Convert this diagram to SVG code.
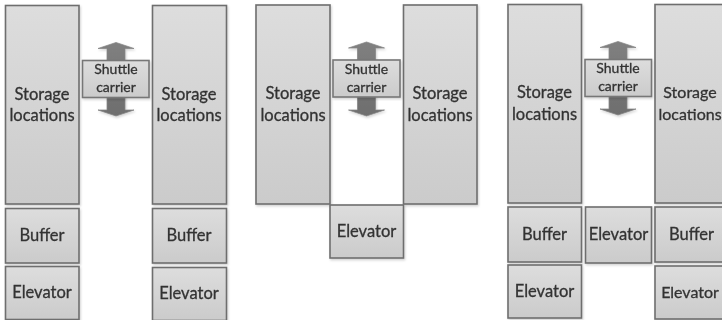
<svg xmlns="http://www.w3.org/2000/svg" width="722" height="320" viewBox="0 0 722 320">
<defs>
<linearGradient id="boxFill" x1="0" y1="0" x2="0" y2="1"><stop offset="0" stop-color="#dddddd"/><stop offset="1" stop-color="#cbcbcb"/></linearGradient>
<linearGradient id="arrowFill" x1="0" y1="0" x2="0" y2="1"><stop offset="0" stop-color="#808080"/><stop offset="1" stop-color="#6e6e6e"/></linearGradient>
<filter id="shadow" x="-10%" y="-10%" width="120%" height="120%"><feDropShadow dx="1" dy="1.5" stdDeviation="1" flood-color="#000000" flood-opacity="0.18"/></filter>
<filter id="soft" x="-5%" y="-5%" width="110%" height="110%"><feGaussianBlur stdDeviation="0.3"/></filter>
</defs>
<style>
.box{fill:url(#boxFill);stroke:#6e6e6e;stroke-width:1.6;filter:url(#shadow)}
.car{fill:url(#boxFill);stroke:#777777;stroke-width:1.6;filter:url(#shadow)}
.arrow{fill:url(#arrowFill);stroke:#858585;stroke-width:.75;filter:url(#shadow)}
text{font-family:"Lato","Liberation Sans",sans-serif;font-size:16.5px;fill:#333333;stroke:#333333;stroke-width:.3;text-anchor:middle;filter:url(#soft)}
.small{font-size:14px}
.edge{font-size:16px}
</style>
<rect width="722" height="320" fill="#ffffff"/>
<g id="connectors">
<path class="arrow" d="M116 42.500L134 48.500H125V110H134L116 116L98 110H107V48.500H98Z"/>
<path class="arrow" d="M366.500 42L384.500 48H375.500V110H384.500L366.500 116L348.500 110H357.500V48H348.500Z"/>
<path class="arrow" d="M618 41.500L636 47.500H627V109H636L618 115L600 109H609V47.500H600Z"/>
</g>
<g id="set1-storage-left"><rect class="box" x="5.500" y="5.500" width="73.500" height="198.500"/><text x="42" y="99.500">Storage</text><text x="42" y="121">locations</text></g>
<g id="set1-storage-right"><rect class="box" x="152.500" y="5.500" width="74" height="198.500"/><text x="189" y="99.500">Storage</text><text x="189" y="121">locations</text></g>
<g id="set1-buffer-left"><rect class="box" x="5.500" y="208.500" width="73.500" height="54.500"/><text x="42" y="240.500">Buffer</text></g>
<g id="set1-buffer-right"><rect class="box" x="152.500" y="208.500" width="74" height="54.500"/><text x="189" y="240.500">Buffer</text></g>
<g id="set1-elevator-left"><rect class="box" x="5.500" y="266.500" width="73.500" height="53"/><text x="42" y="297.500">Elevator</text></g>
<g id="set1-elevator-right"><rect class="box" x="152.500" y="267.500" width="74" height="53"/><text x="189" y="299">Elevator</text></g>
<g id="set1-shuttle"><rect class="car" x="82.500" y="60.500" width="66.500" height="37"/><text class="small" x="116" y="74">Shuttle</text><text class="small" x="116" y="92">carrier</text></g>
<g id="set2-storage-left"><rect class="box" x="256" y="5" width="74" height="199"/><text x="293" y="99">Storage</text><text x="293" y="120.500">locations</text></g>
<g id="set2-storage-right"><rect class="box" x="403.500" y="5" width="73.500" height="199"/><text x="440" y="99">Storage</text><text x="440" y="120.500">locations</text></g>
<g id="set2-elevator"><rect class="box" x="330" y="205" width="73.500" height="53"/><text x="366.500" y="236.500">Elevator</text></g>
<g id="set2-shuttle"><rect class="car" x="333" y="60" width="67" height="37"/><text class="small" x="366.500" y="73.500">Shuttle</text><text class="small" x="366.500" y="91.500">carrier</text></g>
<g id="set3-storage-left"><rect class="box" x="508" y="4.500" width="73.500" height="198.500"/><text x="544.500" y="98">Storage</text><text x="544.500" y="120">locations</text></g>
<g id="set3-storage-right"><rect class="box" x="655" y="4.500" width="74" height="198.500"/><text class="edge" x="690" y="98">Storage</text><text class="edge" x="690" y="120">locations</text></g>
<g id="set3-buffer-left"><rect class="box" x="508" y="207" width="73.500" height="55"/><text x="544.500" y="239.500">Buffer</text></g>
<g id="set3-buffer-right"><rect class="box" x="655" y="207" width="74" height="55"/><text x="691.500" y="239.500">Buffer</text></g>
<g id="set3-elevator-left"><rect class="box" x="508" y="265" width="73.500" height="53"/><text x="544.500" y="296.500">Elevator</text></g>
<g id="set3-elevator-middle"><rect class="box" x="585.500" y="207" width="66" height="56"/><text x="618.500" y="239.500">Elevator</text></g>
<g id="set3-elevator-right"><rect class="box" x="655" y="266" width="74" height="53"/><text class="edge" x="690" y="297.500">Elevator</text></g>
<g id="set3-shuttle"><rect class="car" x="585" y="59.500" width="66.500" height="37"/><text class="small" x="618" y="73">Shuttle</text><text class="small" x="618" y="91">carrier</text></g>
</svg>
